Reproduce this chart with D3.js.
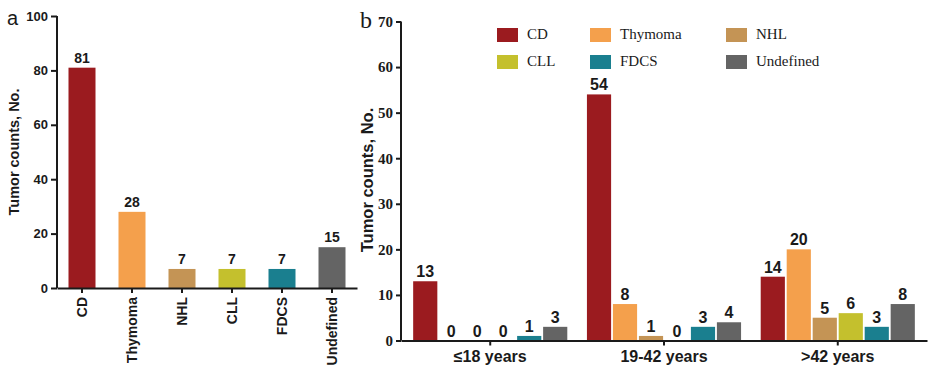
<!DOCTYPE html>
<html><head><meta charset="utf-8">
<script src="https://d3js.org/d3.v7.min.js"></script>
<style>body{margin:0;background:#fff}svg{display:block}
.sans{font-family:"Liberation Sans",Arial,Helvetica,sans-serif}
.serif{font-family:"Liberation Serif","Times New Roman",serif}
</style>
</head><body>
<svg id="c" width="931" height="374"></svg>
<script>
const categories = ["CD","Thymoma","NHL","CLL","FDCS","Undefined"];
const colors = ["#9b1b1f","#f4a04c","#c49455","#c4c02d","#1a7f8f","#646464"];
const totals = [81,28,7,7,7,15];
const ageGroups = ["≤18 years","19-42 years",">42 years"];
const cdByAge = [13,54,14];
const thymomaByAge = [0,8,20];
const nhlByAge = [0,1,5];
const cllByAge = [0,0,6];
const fdcsByAge = [1,3,3];
const undefinedByAge = [3,4,8];
const ticksA = [0,20,40,60,80,100];
const ticksB = [0,10,20,30,40,50,60,70];

const seriesB = [cdByAge,thymomaByAge,nhlByAge,cllByAge,fdcsByAge,undefinedByAge];
const svg = d3.select("#c");
const ink = "#1a1a1a";

// ---- Panel a ----
const yA = d3.scaleLinear().domain([0,100]).range([288,16]);
const xA = d3.scaleBand().domain(categories).range([57,357]).paddingInner(0.46).paddingOuter(0.23);
const gA = svg.append("g");
gA.selectAll("rect").data(totals).join("rect")
  .attr("x",(d,i)=>xA(categories[i])).attr("width",xA.bandwidth())
  .attr("y",d=>yA(d)).attr("height",d=>yA(0)-yA(d)).attr("fill",(d,i)=>colors[i]);
gA.selectAll("text.v").data(totals).join("text").attr("class","v sans")
  .attr("x",(d,i)=>xA(categories[i])+xA.bandwidth()/2).attr("y",d=>yA(d)-5)
  .attr("text-anchor","middle").attr("font-weight","bold")
  .attr("font-size",14).attr("fill",ink).text(d=>d);
const axYA = gA.append("g").attr("transform","translate(57,0)")
  .call(d3.axisLeft(yA).tickValues(ticksA).tickSize(6).tickPadding(3));
axYA.selectAll("text").attr("class","sans").attr("font-family",null).attr("font-weight","bold").attr("font-size",13).attr("fill",ink);
const axXA = gA.append("g").attr("transform","translate(0,288)")
  .call(d3.axisBottom(xA).tickSize(5).tickPadding(4).tickSizeOuter(0));
axXA.selectAll("text").attr("class","sans").attr("font-weight","bold").attr("font-size",14).attr("fill",ink)
  .attr("transform","rotate(-90)").attr("text-anchor","end").attr("dy","0.35em").attr("x",-9).attr("y",0);
[axYA,axXA].forEach(a=>{a.attr("font-family",null);a.selectAll("path,line").attr("stroke",ink).attr("stroke-width",2);});
axYA.select(".domain").attr("d","M0,16V288");
gA.append("text").attr("class","sans").attr("transform","translate(19,152) rotate(-90)").attr("text-anchor","middle")
  .attr("font-weight","bold").attr("font-size",14.5).attr("fill",ink).text("Tumor counts, No.");
svg.append("text").attr("class","sans").attr("x",7).attr("y",25).attr("font-size",20).attr("fill",ink).text("a");

// ---- Panel b ----
const yB = d3.scaleLinear().domain([0,70]).range([340.5,21.5]);
const x0 = d3.scaleBand().domain(ageGroups).range([401,927]).paddingInner(0.113).paddingOuter(0.07);
const x1 = d3.scaleBand().domain(categories).range([0,x0.bandwidth()]).paddingInner(0.07);
const gB = svg.append("g");
const flat = [];
ageGroups.forEach((g,gi)=>categories.forEach((c,ci)=>flat.push({g,c,ci,v:seriesB[ci][gi]})));
gB.selectAll("rect").data(flat).join("rect")
  .attr("x",d=>x0(d.g)+x1(d.c)).attr("width",x1.bandwidth())
  .attr("y",d=>yB(d.v)).attr("height",d=>yB(0)-yB(d.v)).attr("fill",d=>colors[d.ci]);
gB.selectAll("text.v").data(flat).join("text").attr("class","v sans")
  .attr("x",d=>x0(d.g)+x1(d.c)+x1.bandwidth()/2).attr("y",d=>yB(d.v)-4)
  .attr("text-anchor","middle").attr("font-weight","bold")
  .attr("font-size",16).attr("fill",ink).text(d=>d.v);
const axYB = gB.append("g").attr("transform","translate(401,0)")
  .call(d3.axisLeft(yB).tickValues(ticksB).tickSize(5).tickPadding(3));
axYB.selectAll("text").attr("class","serif").attr("font-weight","bold").attr("font-size",15).attr("fill",ink);
const axXB = gB.append("g").attr("transform","translate(0,340.5)")
  .call(d3.axisBottom(x0).tickSize(5).tickPadding(5).tickSizeOuter(0));
axXB.selectAll("text").attr("class","sans").attr("font-weight","bold").attr("font-size",16).attr("fill",ink);
[axYB,axXB].forEach(a=>{a.attr("font-family",null);a.selectAll("path,line").attr("stroke",ink).attr("stroke-width",2);});
axYB.select(".domain").attr("d","M0,21.5V340.5");
gB.append("text").attr("class","sans").attr("transform","translate(373,180) rotate(-90)").attr("text-anchor","middle")
  .attr("font-weight","bold").attr("font-size",16.5).attr("fill",ink).text("Tumor counts, No.");
svg.append("text").attr("class","serif").attr("x",360).attr("y",28).attr("font-size",24).attr("fill",ink).text("b");

// legend
const legCols = [497,590,726];
const legRows = [28,55];
const leg = svg.append("g");
categories.forEach((c,i)=>{
  const col = i%3, row = Math.floor(i/3);
  leg.append("rect").attr("x",legCols[col]).attr("y",legRows[row]).attr("width",21).attr("height",14).attr("fill",colors[i]);
  leg.append("text").attr("class","serif").attr("x",legCols[col]+30).attr("y",legRows[row]+11)
    .attr("font-size",15).attr("fill",ink).text(c);
});
</script>
</body></html>
